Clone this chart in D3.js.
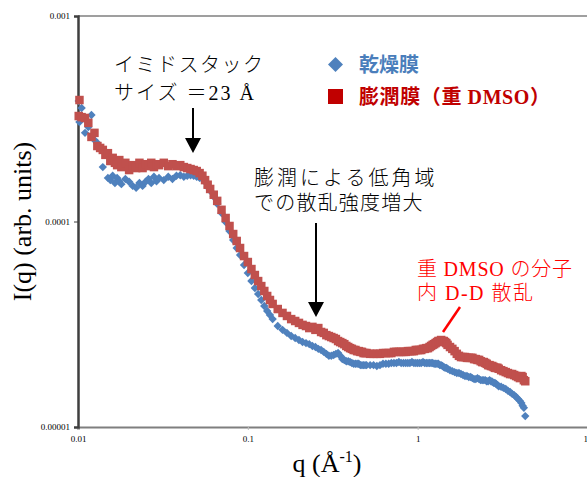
<!DOCTYPE html>
<html>
<head>
<meta charset="utf-8">
<script src="https://cdn.jsdelivr.net/npm/d3@7"></script>
<style>
  body { margin: 0; background: #fff; }
  svg { display: block; }
  .tick text { font-family: "Liberation Serif", serif; font-size: 9px; fill: #000; }
  .jp { font-family: "Liberation Serif", "Noto Sans CJK JP", serif; font-weight: 300; }
</style>
</head>
<body>
<div id="chart"></div>
<script>
// scattering vector q (1/Å), shared by both samples
const qValues = [0.0101, 0.0102, 0.0105, 0.011, 0.0115, 0.012, 0.0125, 0.013, 0.0135, 0.014,
  0.0145, 0.015, 0.0155, 0.016, 0.0165, 0.017, 0.0175, 0.018, 0.019, 0.02,
  0.021, 0.022, 0.023, 0.024, 0.025, 0.026, 0.027, 0.028, 0.029, 0.03,
  0.032, 0.034, 0.036, 0.038, 0.04, 0.042, 0.044, 0.046, 0.048, 0.05,
  0.052, 0.054, 0.056, 0.058, 0.06, 0.063, 0.066, 0.07, 0.074, 0.078,
  0.082, 0.086, 0.09, 0.095, 0.1, 0.105, 0.11, 0.115, 0.12, 0.125,
  0.13, 0.135, 0.14, 0.15, 0.16, 0.17, 0.18, 0.19, 0.2, 0.21,
  0.22, 0.23, 0.24, 0.25, 0.26, 0.27, 0.28, 0.29, 0.3, 0.32,
  0.34, 0.36, 0.38, 0.4, 0.42, 0.44, 0.46, 0.48, 0.5, 0.55,
  0.6, 0.65, 0.7, 0.75, 0.8, 0.85, 0.9, 0.95, 1.0, 1.05,
  1.1, 1.15, 1.2, 1.25, 1.3, 1.35, 1.4, 1.45, 1.5, 1.6,
  1.7, 1.8, 1.9, 2.0, 2.1, 2.2, 2.3, 2.4, 2.5, 2.6,
  2.7, 2.8, 2.9, 3.0, 3.2, 3.4, 3.6, 3.8, 4.0, 4.15, 4.3];

// 乾燥膜 (dry film)
const dryValues = [3.86e-4, 3.05e-4, 3.57e-4, 2.70e-4, 2.88e-4, 3.30e-4, 2.49e-4, 2.41e-4, 2.28e-4, 1.84e-4,
  2.18e-4, 1.63e-4, 1.59e-4, 1.67e-4, 1.54e-4, 1.63e-4, 1.57e-4, 1.52e-4, 1.61e-4, 1.56e-4,
  1.49e-4, 1.46e-4, 1.54e-4, 1.49e-4, 1.56e-4, 1.61e-4, 1.54e-4, 1.65e-4, 1.57e-4, 1.63e-4,
  1.59e-4, 1.65e-4, 1.61e-4, 1.67e-4, 1.68e-4, 1.65e-4, 1.67e-4, 1.68e-4, 1.67e-4, 1.65e-4,
  1.63e-4, 1.61e-4, 1.56e-4, 1.47e-4, 1.41e-4, 1.32e-4, 1.22e-4, 1.10e-4, 9.94e-5, 8.99e-5,
  8.13e-5, 7.43e-5, 6.87e-5, 6.14e-5, 5.62e-5, 5.13e-5, 4.75e-5, 4.44e-5, 4.15e-5, 3.88e-5,
  3.67e-5, 3.51e-5, 3.35e-5, 3.10e-5, 2.97e-5, 2.87e-5, 2.77e-5, 2.71e-5, 2.65e-5, 2.59e-5,
  2.56e-5, 2.53e-5, 2.48e-5, 2.45e-5, 2.40e-5, 2.37e-5, 2.32e-5, 2.27e-5, 2.22e-5, 2.24e-5,
  2.29e-5, 2.14e-5, 2.09e-5, 2.07e-5, 2.03e-5, 2.03e-5, 2.00e-5, 2.00e-5, 2.00e-5, 2.00e-5,
  2.00e-5, 2.03e-5, 2.05e-5, 2.05e-5, 2.05e-5, 2.05e-5, 2.05e-5, 2.05e-5, 2.05e-5, 2.05e-5,
  2.05e-5, 2.05e-5, 2.05e-5, 2.03e-5, 2.03e-5, 2.00e-5, 1.98e-5, 1.94e-5, 1.92e-5, 1.87e-5,
  1.83e-5, 1.81e-5, 1.77e-5, 1.75e-5, 1.73e-5, 1.71e-5, 1.71e-5, 1.69e-5, 1.69e-5, 1.67e-5,
  1.67e-5, 1.64e-5, 1.62e-5, 1.58e-5, 1.55e-5, 1.50e-5, 1.45e-5, 1.40e-5, 1.34e-5, 1.27e-5, 1.13e-5];

// 膨潤膜（重 DMSO） (swollen film)
const wetValues = [3.26e-4, 3.90e-4, 3.22e-4, 3.19e-4, 3.02e-4, 2.58e-4, 2.70e-4, 2.33e-4, 2.28e-4, 2.23e-4,
  2.11e-4, 2.15e-4, 1.97e-4, 2.04e-4, 1.93e-4, 1.88e-4, 1.99e-4, 1.84e-4, 1.93e-4, 1.78e-4,
  1.88e-4, 1.82e-4, 1.93e-4, 1.82e-4, 1.90e-4, 1.86e-4, 1.93e-4, 1.84e-4, 1.90e-4, 1.88e-4,
  1.93e-4, 1.86e-4, 1.90e-4, 1.86e-4, 1.88e-4, 1.84e-4, 1.82e-4, 1.80e-4, 1.78e-4, 1.76e-4,
  1.72e-4, 1.67e-4, 1.59e-4, 1.51e-4, 1.44e-4, 1.35e-4, 1.26e-4, 1.14e-4, 1.04e-4, 9.51e-5,
  8.69e-5, 8.04e-5, 7.43e-5, 6.79e-5, 6.35e-5, 5.87e-5, 5.49e-5, 5.13e-5, 4.85e-5, 4.59e-5,
  4.34e-5, 4.15e-5, 3.97e-5, 3.75e-5, 3.59e-5, 3.47e-5, 3.35e-5, 3.28e-5, 3.21e-5, 3.14e-5,
  3.10e-5, 3.03e-5, 3.07e-5, 2.97e-5, 3.03e-5, 2.90e-5, 2.87e-5, 2.80e-5, 2.77e-5, 2.71e-5,
  2.62e-5, 2.56e-5, 2.48e-5, 2.42e-5, 2.37e-5, 2.34e-5, 2.32e-5, 2.29e-5, 2.29e-5, 2.27e-5,
  2.27e-5, 2.29e-5, 2.29e-5, 2.32e-5, 2.32e-5, 2.32e-5, 2.34e-5, 2.34e-5, 2.37e-5, 2.37e-5,
  2.40e-5, 2.42e-5, 2.48e-5, 2.53e-5, 2.59e-5, 2.62e-5, 2.62e-5, 2.59e-5, 2.51e-5, 2.40e-5,
  2.27e-5, 2.19e-5, 2.19e-5, 2.17e-5, 2.17e-5, 2.14e-5, 2.12e-5, 2.07e-5, 2.05e-5, 2.00e-5,
  1.98e-5, 1.96e-5, 1.94e-5, 1.92e-5, 1.87e-5, 1.83e-5, 1.81e-5, 1.77e-5, 1.73e-5, 1.75e-5, 1.67e-5];

// extra readings in the wide-angle part, where the points crowd together
const qValuesWide = [0.31, 0.33, 0.35, 0.37, 0.39, 0.41, 0.43, 0.45, 0.47, 0.49,
  0.525, 0.575, 0.625, 0.675, 0.725, 0.775, 0.825, 0.875, 0.925, 0.975,
  1.025, 1.075, 1.125, 1.175, 1.225, 1.275, 1.325, 1.375, 1.425, 1.475,
  1.55, 1.65, 1.75, 1.85, 1.95, 2.05, 2.15, 2.25, 2.35, 2.45,
  2.55, 2.65, 2.75, 2.85, 2.95, 3.1, 3.3, 3.5, 3.7, 3.9, 4.08, 4.22];
const dryValuesWide = [2.22e-5, 2.27e-5, 2.22e-5, 2.12e-5, 2.09e-5, 2.05e-5, 2.03e-5, 2.03e-5, 2.00e-5, 2.00e-5,
  2.00e-5, 1.98e-5, 2.03e-5, 2.03e-5, 2.05e-5, 2.07e-5, 2.05e-5, 2.05e-5, 2.07e-5, 2.05e-5,
  2.05e-5, 2.07e-5, 2.05e-5, 2.05e-5, 2.05e-5, 2.03e-5, 2.03e-5, 2.00e-5, 1.96e-5, 1.94e-5,
  1.89e-5, 1.85e-5, 1.83e-5, 1.79e-5, 1.77e-5, 1.75e-5, 1.71e-5, 1.73e-5, 1.69e-5, 1.69e-5,
  1.67e-5, 1.69e-5, 1.66e-5, 1.64e-5, 1.60e-5, 1.57e-5, 1.53e-5, 1.48e-5, 1.43e-5, 1.37e-5, 1.31e-5, 1.24e-5];
const wetValuesWide = [2.74e-5, 2.68e-5, 2.59e-5, 2.53e-5, 2.45e-5, 2.40e-5, 2.37e-5, 2.34e-5, 2.32e-5, 2.29e-5,
  2.27e-5, 2.27e-5, 2.29e-5, 2.29e-5, 2.32e-5, 2.32e-5, 2.32e-5, 2.34e-5, 2.34e-5, 2.37e-5,
  2.37e-5, 2.40e-5, 2.42e-5, 2.45e-5, 2.51e-5, 2.56e-5, 2.62e-5, 2.65e-5, 2.62e-5, 2.56e-5,
  2.45e-5, 2.34e-5, 2.22e-5, 2.19e-5, 2.17e-5, 2.17e-5, 2.14e-5, 2.12e-5, 2.09e-5, 2.07e-5,
  2.03e-5, 2.00e-5, 1.98e-5, 1.94e-5, 1.94e-5, 1.89e-5, 1.85e-5, 1.81e-5, 1.79e-5, 1.75e-5, 1.77e-5, 1.69e-5];

const xTicks = [0.01, 0.1, 1, 10];
const xTickLabels = ['0.01', '0.1', '1', '10'];
const yTicks = [1e-5, 1e-4, 1e-3];
const yTickLabels = ['0.00001', '0.0001', '0.001'];
const seriesNames = ['乾燥膜', '膨潤膜（重 DMSO）'];

const W = 587, H = 477;
const margin = { top: 16, right: 0, bottom: 50, left: 78 };
const blue = '#4f81bd', red = '#c0504d';

const svg = d3.select('#chart').append('svg')
    .attr('width', W)
    .attr('height', H);

const x = d3.scaleLog().domain([0.01, 10]).range([margin.left, W + 0.5]);
const y = d3.scaleLog().domain([1e-5, 1e-3]).range([H - margin.bottom, margin.top]);

const toPoints = (qs, vs) => qs.map((q, i) => ({ q: q, v: vs[i] }));
const dry = toPoints(qValues, dryValues).concat(toPoints(qValuesWide, dryValuesWide))
    .sort((a, b) => a.q - b.q);
const wet = toPoints(qValues, wetValues).concat(toPoints(qValuesWide, wetValuesWide))
    .sort((a, b) => a.q - b.q);

// top frame line
svg.append('line')
    .attr('x1', x(0.01)).attr('x2', W)
    .attr('y1', y(1e-3)).attr('y2', y(1e-3))
    .attr('stroke', '#7f7f7f').attr('stroke-width', 1.5);

// axes
const xAxis = d3.axisBottom(x).tickValues(xTicks)
    .tickFormat((d, i) => xTickLabels[i]).tickSize(3).tickPadding(6);
const yAxis = d3.axisLeft(y).tickValues(yTicks)
    .tickFormat((d, i) => yTickLabels[i]).tickSize(4).tickPadding(4);

const gx = svg.append('g')
    .attr('transform', `translate(0, ${y(1e-5)})`)
    .call(xAxis);
gx.select('.domain').attr('stroke', '#7f7f7f').attr('stroke-width', 2);
gx.selectAll('.tick line').attr('stroke', '#bfbfbf');

const gy = svg.append('g')
    .attr('transform', `translate(${x(0.01)}, 0)`)
    .call(yAxis);
gy.select('.domain').attr('stroke', '#3f3f3f').attr('stroke-width', 2.5);
gy.selectAll('.tick line').attr('stroke', '#3f3f3f');

// data markers
const diamond = r => `M0,${-r}L${r},0L0,${r}L${-r},0Z`;

svg.append('g').attr('class', 'dry')
    .selectAll('path')
    .data(dry)
    .enter().append('path')
    .attr('d', diamond(4.2))
    .attr('transform', d => `translate(${x(d.q)}, ${y(d.v)})`)
    .attr('fill', blue);

svg.append('g').attr('class', 'wet')
    .selectAll('rect')
    .data(wet)
    .enter().append('rect')
    .attr('x', d => x(d.q) - 4.25)
    .attr('y', d => y(d.v) - 4.25)
    .attr('width', 8.5)
    .attr('height', 8.5)
    .attr('fill', red);

// axis titles
svg.append('text')
    .attr('transform', `translate(31, ${y(1e-4)}) rotate(-90)`)
    .attr('text-anchor', 'middle')
    .style('font-family', '"Liberation Serif", serif')
    .style('font-size', '26px')
    .text('I(q) (arb. units)');

const xt = svg.append('text')
    .attr('x', 327).attr('y', 472)
    .attr('text-anchor', 'middle')
    .style('font-family', '"Liberation Serif", serif')
    .style('font-size', '26px');
xt.append('tspan').text('q (Å');
xt.append('tspan').attr('dy', -10).style('font-size', '16px').text('-1');
xt.append('tspan').attr('dy', 10).text(')');

// legend
svg.append('path')
    .attr('d', diamond(7.5))
    .attr('transform', 'translate(335.5, 64.5)')
    .attr('fill', blue);
svg.append('rect')
    .attr('x', 328).attr('y', 89).attr('width', 15).attr('height', 15)
    .attr('fill', '#c00000');
svg.append('text')
    .attr('class', 'jp')
    .attr('x', 359).attr('y', 72)
    .style('font-size', '20px').style('font-weight', 700)
    .attr('fill', '#4a7ebb')
    .text(seriesNames[0]);
svg.append('text')
    .attr('class', 'jp')
    .attr('x', 359).attr('y', 104)
    .style('font-size', '20px').style('font-weight', 700)
    .style('letter-spacing', '0.6px')
    .attr('fill', '#c00000')
    .text(seriesNames[1]);

// annotations
const note = (t, x0, y0, color, size, spacing) => {
    svg.append('text')
        .attr('class', 'jp')
        .attr('x', x0).attr('y', y0)
        .style('font-size', size + 'px')
        .style('letter-spacing', spacing + 'px')
        .attr('fill', color)
        .text(t);
};
note('イミドスタック', 114, 72, '#000', 20, 1.5);
note('サイズ ＝23 Å', 114, 100, '#000', 20, 2);
note('膨潤による低角域', 254, 185, '#000', 20, 3);
note('での散乱強度増大', 254, 210, '#000', 20, 1.2);
note('重 DMSO の分子', 417, 276, '#ff0000', 20, 0.8);
note('内 D-D 散乱', 417, 300, '#ff0000', 20, 1.5);

const arrow = (ax, y1, y2) => {
    svg.append('line')
        .attr('x1', ax).attr('x2', ax)
        .attr('y1', y1).attr('y2', y2 - 14)
        .attr('stroke', '#000').attr('stroke-width', 2);
    svg.append('path')
        .attr('d', `M${ax - 8},${y2 - 15}L${ax + 8},${y2 - 15}L${ax},${y2}Z`)
        .attr('fill', '#000');
};
arrow(193, 108, 153);
arrow(316, 223, 317);

svg.append('line')
    .attr('x1', 460).attr('y1', 307)
    .attr('x2', 443).attr('y2', 332)
    .attr('stroke', '#ff0000').attr('stroke-width', 2.5);
</script>
</body>
</html>
